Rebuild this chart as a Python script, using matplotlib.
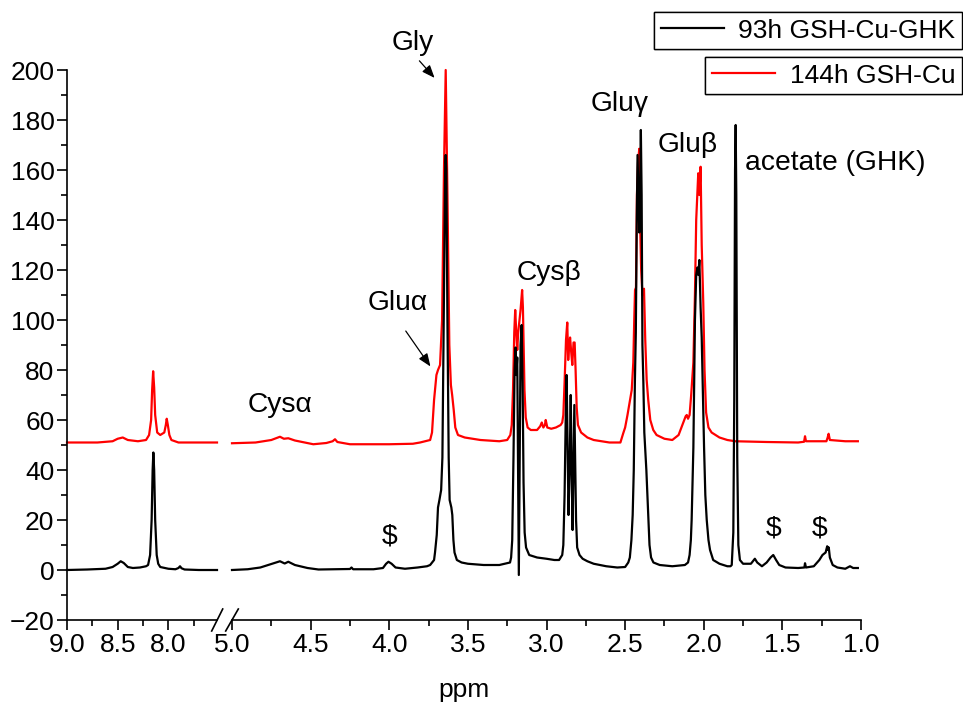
import matplotlib
matplotlib.use("Agg")
import matplotlib.pyplot as plt
from matplotlib.lines import Line2D
from matplotlib.ticker import MultipleLocator

plt.rcParams["font.family"] = ["Liberation Sans", "DejaVu Sans"]

# ---- spectra (ppm, intensity) ----
# left panel (9.0 - 7.5 ppm)
ppm_left_black = [9.00, 8.80, 8.62, 8.55, 8.50, 8.47, 8.44, 8.40, 8.35, 8.28, 8.22,
                  8.20, 8.18, 8.165, 8.155, 8.148, 8.140, 8.130, 8.115, 8.10, 8.08,
                  8.00, 7.93, 7.90, 7.885, 7.87, 7.84, 7.70, 7.52]
int_left_black = [0.0, 0.2, 0.5, 1.2, 2.5, 3.5, 2.8, 1.2, 0.8, 1.0, 1.5,
                  2.0, 6.0, 20.0, 40.0, 47.0, 40.0, 20.0, 6.0, 2.5, 1.2,
                  0.5, 0.3, 0.8, 1.5, 0.7, 0.2, 0.0, 0.0]

ppm_left_red = [9.00, 8.70, 8.55, 8.50, 8.45, 8.40, 8.30, 8.22, 8.19, 8.17, 8.16,
                8.15, 8.14, 8.13, 8.11, 8.08, 8.04, 8.025, 8.016, 8.005, 7.99,
                7.97, 7.90, 7.70, 7.52]
int_left_red = [51.0, 51.0, 51.5, 52.5, 53.0, 52.0, 51.5, 52.0, 54.0, 60.0, 72.0,
                79.5, 73.0, 62.0, 55.0, 54.0, 55.0, 58.0, 60.5, 58.0, 54.0,
                52.0, 51.0, 51.0, 51.0]

# right panel (5.0 - 1.0 ppm), 93h GSH-Cu-GHK
ppm_right_black = [5.00, 4.90, 4.82, 4.76, 4.695, 4.665, 4.642, 4.60, 4.52, 4.45,
                   4.35, 4.25, 4.24, 4.23, 4.10, 4.04, 4.02, 4.005, 3.985, 3.96,
                   3.90, 3.82, 3.76, 3.74, 3.715, 3.709, 3.698, 3.690, 3.681, 3.670,
                   3.662, 3.652, 3.644, 3.641, 3.637, 3.630, 3.622, 3.616, 3.605, 3.599,
                   3.592, 3.585, 3.57, 3.54, 3.50, 3.40, 3.30, 3.232, 3.225, 3.218,
                   3.210, 3.203, 3.197, 3.192, 3.186, 3.181, 3.176, 3.171, 3.165, 3.158,
                   3.152, 3.146, 3.139, 3.130, 3.11, 3.06, 3.00, 2.95, 2.92, 2.90,
                   2.893, 2.885, 2.878, 2.872, 2.866, 2.860, 2.853, 2.846, 2.840, 2.834,
                   2.829, 2.823, 2.817, 2.812, 2.805, 2.79, 2.77, 2.74, 2.70, 2.62,
                   2.55, 2.50, 2.48, 2.47, 2.460, 2.452, 2.445, 2.438, 2.432, 2.426,
                   2.421, 2.415, 2.410, 2.405, 2.400, 2.395, 2.390, 2.384, 2.378, 2.372,
                   2.365, 2.355, 2.345, 2.335, 2.32, 2.28, 2.20, 2.12, 2.10, 2.09,
                   2.082, 2.077, 2.066, 2.056, 2.048, 2.040, 2.034, 2.028, 2.020, 2.013,
                   2.005, 1.998, 1.990, 1.981, 1.970, 1.960, 1.94, 1.90, 1.85, 1.83,
                   1.822, 1.812, 1.806, 1.801, 1.797, 1.793, 1.787, 1.780, 1.770, 1.75,
                   1.70, 1.675, 1.66, 1.63, 1.60, 1.575, 1.558, 1.54, 1.52, 1.48,
                   1.40, 1.36, 1.356, 1.35, 1.30, 1.265, 1.245, 1.225, 1.215, 1.21,
                   1.205, 1.198, 1.18, 1.15, 1.10, 1.07, 1.05, 1.02]
int_right_black = [0.0, 0.3, 1.0, 2.2, 3.5, 2.6, 3.3, 2.0, 0.8, 0.2,
                   0.3, 0.4, 1.0, 0.3, 0.3, 0.8, 2.5, 3.3, 2.5, 1.0,
                   0.5, 1.0, 1.5, 2.0, 4.0, 7.0, 14.0, 25.0, 28.0, 32.0,
                   45.0, 110.0, 163.0, 166.0, 160.0, 100.0, 45.0, 28.0, 25.0, 22.0,
                   12.0, 7.0, 4.0, 3.0, 2.5, 2.0, 2.0, 3.0, 5.0, 12.0,
                   45.0, 80.0, 89.0, 78.0, 85.0, 40.0, -2.0, 40.0, 90.0, 98.0,
                   75.0, 35.0, 15.0, 9.0, 6.0, 5.0, 4.5, 4.0, 4.0, 6.0,
                   10.0, 30.0, 60.0, 78.0, 50.0, 22.0, 40.0, 70.0, 40.0, 16.0,
                   40.0, 66.0, 40.0, 20.0, 9.0, 6.0, 4.5, 3.5, 2.5, 1.5,
                   1.0, 1.2, 3.0, 5.0, 12.0, 22.0, 40.0, 75.0, 95.0, 140.0,
                   166.0, 150.0, 135.0, 150.0, 176.0, 150.0, 90.0, 75.0, 55.0, 48.0,
                   40.0, 25.0, 10.0, 5.0, 3.0, 2.0, 1.5, 2.0, 3.0, 6.0,
                   12.0, 20.0, 49.0, 100.0, 118.0, 121.0, 118.0, 124.0, 105.0, 93.0,
                   70.0, 49.0, 30.0, 20.0, 12.0, 8.0, 4.0, 2.5, 1.5, 1.5,
                   2.0, 15.0, 68.0, 160.0, 178.0, 150.0, 45.0, 10.0, 4.0, 2.5,
                   2.5, 4.5, 3.0, 1.5, 3.0, 5.0, 6.0, 4.0, 2.0, 1.0,
                   0.8, 1.0, 2.7, 1.0, 1.5, 4.0, 6.0, 7.0, 9.5, 8.0,
                   9.0, 5.0, 2.0, 1.0, 0.5, 1.5, 0.8, 0.8]

# right panel, 144h GSH-Cu
ppm_right_red = [5.00, 4.85, 4.75, 4.695, 4.67, 4.642, 4.60, 4.483, 4.40, 4.36,
                 4.345, 4.33, 4.25, 4.00, 3.85, 3.804, 3.74, 3.728, 3.715, 3.70,
                 3.690, 3.677, 3.664, 3.652, 3.641, 3.630, 3.618, 3.608, 3.600, 3.590,
                 3.580, 3.563, 3.52, 3.42, 3.30, 3.25, 3.23, 3.221, 3.213, 3.205,
                 3.199, 3.193, 3.186, 3.180, 3.172, 3.165, 3.155, 3.150, 3.145, 3.140,
                 3.132, 3.12, 3.10, 3.06, 3.04, 3.03, 3.02, 3.01, 3.005, 2.995,
                 2.97, 2.94, 2.91, 2.90, 2.893, 2.885, 2.876, 2.868, 2.862, 2.856,
                 2.850, 2.844, 2.836, 2.828, 2.821, 2.815, 2.808, 2.800, 2.78, 2.74,
                 2.70, 2.60, 2.53, 2.512, 2.50, 2.485, 2.469, 2.458, 2.448, 2.442,
                 2.437, 2.431, 2.425, 2.418, 2.410, 2.405, 2.398, 2.390, 2.380, 2.372,
                 2.363, 2.353, 2.340, 2.321, 2.30, 2.25, 2.20, 2.16, 2.13, 2.115,
                 2.108, 2.10, 2.09, 2.08, 2.066, 2.056, 2.048, 2.035, 2.028, 2.020,
                 2.013, 2.003, 1.995, 1.985, 1.97, 1.95, 1.90, 1.85, 1.80, 1.60,
                 1.40, 1.362, 1.356, 1.35, 1.22, 1.212, 1.206, 1.198, 1.10, 1.02]
int_right_red = [50.7, 51.0, 52.0, 53.3, 52.5, 52.7, 51.8, 50.3, 50.8, 51.5,
                 52.3, 51.2, 50.3, 50.3, 50.5, 51.0, 52.0, 55.0, 68.0, 78.0,
                 80.0, 82.0, 100.0, 160.0, 200.0, 150.0, 90.0, 74.0, 70.0, 64.0,
                 57.0, 54.0, 53.0, 52.0, 51.5, 52.0, 54.0, 58.0, 72.0, 95.0,
                 104.0, 96.0, 88.0, 95.0, 100.0, 104.0, 112.0, 105.0, 88.0, 72.0,
                 61.0, 57.0, 56.0, 56.0, 57.5, 59.0, 57.0, 58.0, 60.0, 57.0,
                 56.5, 57.0, 58.0, 59.0, 62.0, 75.0, 92.0, 99.0, 84.0, 90.0,
                 93.0, 88.0, 82.0, 91.0, 91.0, 80.0, 65.0, 58.0, 55.0, 53.0,
                 52.0, 51.0, 51.0, 54.7, 57.0, 62.0, 68.0, 72.0, 83.0, 100.0,
                 112.0, 113.0, 150.0, 163.0, 168.5, 140.0, 120.0, 110.0, 112.5, 92.0,
                 76.0, 68.0, 60.0, 56.0, 54.0, 52.5, 52.0, 54.0, 59.0, 61.5,
                 62.0, 60.5, 62.0, 70.0, 83.0, 110.0, 140.0, 158.7, 150.0, 161.3,
                 130.0, 106.7, 80.0, 63.0, 57.0, 55.0, 53.0, 52.0, 51.5, 51.2,
                 51.0, 51.3, 53.5, 51.5, 51.5, 53.0, 54.5, 52.0, 51.5, 51.5]

legend_labels = ["93h GSH-Cu-GHK", "144h GSH-Cu"]

W, H = 963, 706
fig = plt.figure(figsize=(W / 100, H / 100), dpi=100)


def px(x, y):
    return x / W, 1 - y / H


ax1 = fig.add_axes([67 / W, 86 / H, 150 / W, 550 / H])
ax2 = fig.add_axes([232 / W, 86 / H, 629 / W, 550 / H])

lw = 1.6
ax1.plot(ppm_left_red, int_left_red, color="#ff0000", lw=lw, clip_on=False)
ax1.plot(ppm_left_black, int_left_black, color="black", lw=lw, clip_on=False)
ax2.plot(ppm_right_red, int_right_red, color="#ff0000", lw=lw, clip_on=False)
ax2.plot(ppm_right_black, int_right_black, color="black", lw=lw, clip_on=False)

ax1.set_xlim(9.0, 7.52)
ax2.set_xlim(5.0, 1.0)
for ax in (ax1, ax2):
    ax.set_ylim(-20, 200)
    ax.spines["top"].set_visible(False)
    ax.spines["right"].set_visible(False)
    ax.spines["bottom"].set_linewidth(1.2)
    ax.xaxis.set_major_locator(MultipleLocator(0.5))
    ax.xaxis.set_minor_locator(MultipleLocator(0.25))
    ax.xaxis.set_major_formatter(plt.FormatStrFormatter("%.1f"))
    ax.tick_params(axis="both", which="major", direction="out", length=7,
                   width=1.2, labelsize=19, pad=2)
    ax.tick_params(axis="both", which="minor", direction="out", length=4, width=1.2)

ax1.spines["left"].set_linewidth(1.2)
ax1.yaxis.set_major_locator(MultipleLocator(20))
ax1.yaxis.set_minor_locator(MultipleLocator(10))
ax2.spines["left"].set_visible(False)
ax2.tick_params(axis="y", which="both", left=False, labelleft=False)

# axis break marks
for x0, x1 in [(211.7, 222.7), (225.7, 238.3)]:
    a, b = px(x0, 631)
    c, d = px(x1, 609)
    fig.add_artist(Line2D([a, c], [b, d], color="black", lw=1.2))

fig.text(464 / W, 1 - 690 / H, "ppm", ha="center", va="center", fontsize=19)

# peak labels
fs = 20.3
arrow = dict(arrowstyle="-|>,head_length=0.7,head_width=0.28", color="black",
             lw=0.9, mutation_scale=11)
ax2.text(3.85, 211, "Gly", ha="center", va="center", fontsize=fs)
ax2.annotate("", xy=(3.70, 196), xytext=(3.82, 204.5), annotation_clip=False,
             arrowprops=arrow)
ax2.text(3.944, 107, "Glu\u03b1", ha="center", va="center", fontsize=fs)
ax2.annotate("", xy=(3.728, 80.5), xytext=(3.905, 96.5), annotation_clip=False,
             arrowprops=arrow)
ax2.text(4.695, 66, "Cys\u03b1", ha="center", va="center", fontsize=fs)
ax2.text(4.00, 13.5, "$", ha="center", va="center", fontsize=fs)
ax2.text(2.984, 119, "Cys\u03b2", ha="center", va="center", fontsize=fs)
ax2.text(2.533, 186.5, "Glu\u03b3", ha="center", va="center", fontsize=fs)
ax2.text(2.10, 170, "Glu\u03b2", ha="center", va="center", fontsize=fs)
ax2.text(1.74, 163, "acetate (GHK)", ha="left", va="center", fontsize=fs)
ax2.text(1.553, 16.5, "$", ha="center", va="center", fontsize=fs)
ax2.text(1.261, 16.5, "$", ha="center", va="center", fontsize=fs)

# two stacked legend boxes
for color, label, ypix in [("black", legend_labels[0], 12), ("#ff0000", legend_labels[1], 57)]:
    leg = fig.legend(handles=[Line2D([], [], color=color, lw=lw)], labels=[label],
                     loc="upper right", bbox_to_anchor=px(962, ypix), fontsize=19,
                     frameon=True, fancybox=False, edgecolor="black", framealpha=1,
                     borderaxespad=0, handlelength=2.4, handletextpad=0.55,
                     borderpad=0.25)
    leg.get_frame().set_linewidth(1.0)
    fig.add_artist(leg)

fig.savefig("out.png", dpi=100)
